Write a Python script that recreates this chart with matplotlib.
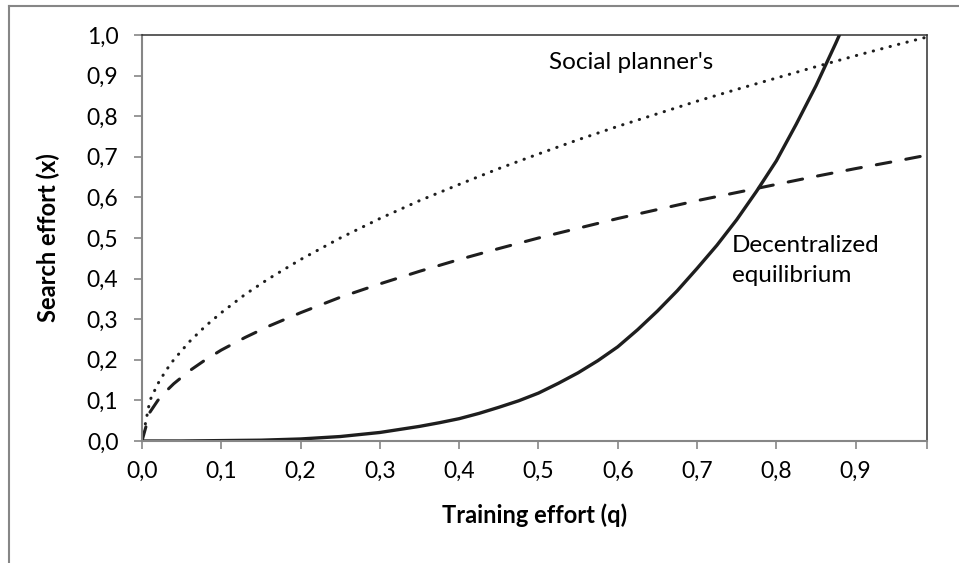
import matplotlib
matplotlib.use("Agg")
import matplotlib.pyplot as plt
from matplotlib.lines import Line2D

plt.rcParams["font.family"] = ["Lato", "DejaVu Sans"]

# values
q_sqrt = [0.00, 0.01, 0.02, 0.03, 0.04, 0.06, 0.08, 0.10, 0.13, 0.16, 0.20,
          0.25, 0.30, 0.35, 0.40, 0.45, 0.50, 0.55, 0.60, 0.65, 0.70,
          0.75, 0.80, 0.85, 0.90, 0.95, 0.99]
planner = [0.000, 0.100, 0.141, 0.173, 0.200, 0.245, 0.283, 0.316, 0.361, 0.400, 0.447,
           0.500, 0.548, 0.592, 0.632, 0.671, 0.707, 0.742, 0.775, 0.806, 0.837,
           0.866, 0.894, 0.922, 0.949, 0.975, 0.995]
dashed_curve = [0.000, 0.071, 0.100, 0.122, 0.141, 0.173, 0.200, 0.224, 0.255, 0.283, 0.316,
                0.354, 0.387, 0.418, 0.447, 0.474, 0.500, 0.524, 0.548, 0.570, 0.592,
                0.612, 0.632, 0.652, 0.671, 0.689, 0.704]

q_dec = [0.00, 0.05, 0.10, 0.15, 0.20, 0.25, 0.30, 0.35, 0.375, 0.40, 0.425,
         0.45, 0.475, 0.50, 0.525, 0.55, 0.575, 0.60, 0.625, 0.65, 0.675,
         0.70, 0.725, 0.75, 0.775, 0.80, 0.825, 0.85, 0.875, 0.90]
decentralized = [0.000, 0.000, 0.001, 0.002, 0.005, 0.011, 0.021, 0.036, 0.045, 0.055, 0.068,
                 0.083, 0.099, 0.118, 0.142, 0.168, 0.198, 0.232, 0.274, 0.320, 0.370,
                 0.425, 0.482, 0.545, 0.615, 0.690, 0.780, 0.875, 0.980, 1.090]

x_ticks = [0.0, 0.1, 0.2, 0.3, 0.4, 0.5, 0.6, 0.7, 0.8, 0.9, 0.99]
x_labels = ["0,0", "0,1", "0,2", "0,3", "0,4", "0,5", "0,6", "0,7", "0,8", "0,9", ""]
y_ticks = [0.0, 0.1, 0.2, 0.3, 0.4, 0.5, 0.6, 0.7, 0.8, 0.9, 1.0]
y_labels = ["0,0", "0,1", "0,2", "0,3", "0,4", "0,5", "0,6", "0,7", "0,8", "0,9", "1,0"]

line_col = "#1e1e1e"
axis_gray = "#868686"

fig = plt.figure(figsize=(9.59, 5.63), dpi=100)
ax = fig.add_axes([142 / 959, 1 - 441 / 563, (927 - 142) / 959, (441 - 35) / 563])

ax.plot(q_sqrt, planner, color=line_col, lw=2.2,
        linestyle=(0, (0.1, 2.75)), dash_capstyle="round")
ax.plot(q_sqrt, dashed_curve, color=line_col, lw=2.2,
        linestyle=(0, (4.8, 5.0)), dash_capstyle="round")
ax.plot(q_dec, decentralized, color=line_col, lw=2.4, solid_capstyle="round")

ax.set_xlim(0, 0.99)
ax.set_ylim(0, 1.0)
ax.set_xticks(x_ticks)
ax.set_xticklabels(x_labels)
ax.set_yticks(y_ticks)
ax.set_yticklabels(y_labels)
ax.tick_params(axis="both", direction="out", length=6, width=1.2,
               color=axis_gray, labelsize=16.5, labelcolor="black")
ax.tick_params(axis="y", pad=11)
ax.tick_params(axis="x", pad=8)

for side in ["left", "bottom"]:
    ax.spines[side].set_color(axis_gray)
    ax.spines[side].set_linewidth(1.5)
for side in ["top", "right"]:
    ax.spines[side].set_color("#303030")
    ax.spines[side].set_linewidth(1.1)

ax.set_xlabel("Training effort (q)", fontsize=17, fontweight="bold")
ax.set_ylabel("Search effort (x)", fontsize=17, fontweight="bold")
ax.xaxis.label.set_va("center")
ax.yaxis.label.set_va("center")
ax.xaxis.set_label_coords(0.5, (441 - 515) / 406)
ax.yaxis.set_label_coords((48 - 142) / 785, 0.5)

ax.text(0.513, 0.933, "Social planner's", fontsize=17.5, va="center", ha="left")
ax.text(0.744, 0.445, "Decentralized\nequilibrium", fontsize=17.5, va="center",
        ha="left", linespacing=1.55)

# outer chart border (cut off at right and bottom)
fig.add_artist(Line2D([9 / 959, 9 / 959], [0, 1 - 6 / 563],
                      transform=fig.transFigure, color=axis_gray, lw=1.5))
fig.add_artist(Line2D([9 / 959, 1], [1 - 6 / 563, 1 - 6 / 563],
                      transform=fig.transFigure, color=axis_gray, lw=1.5))

fig.savefig("out.png", dpi=100)
